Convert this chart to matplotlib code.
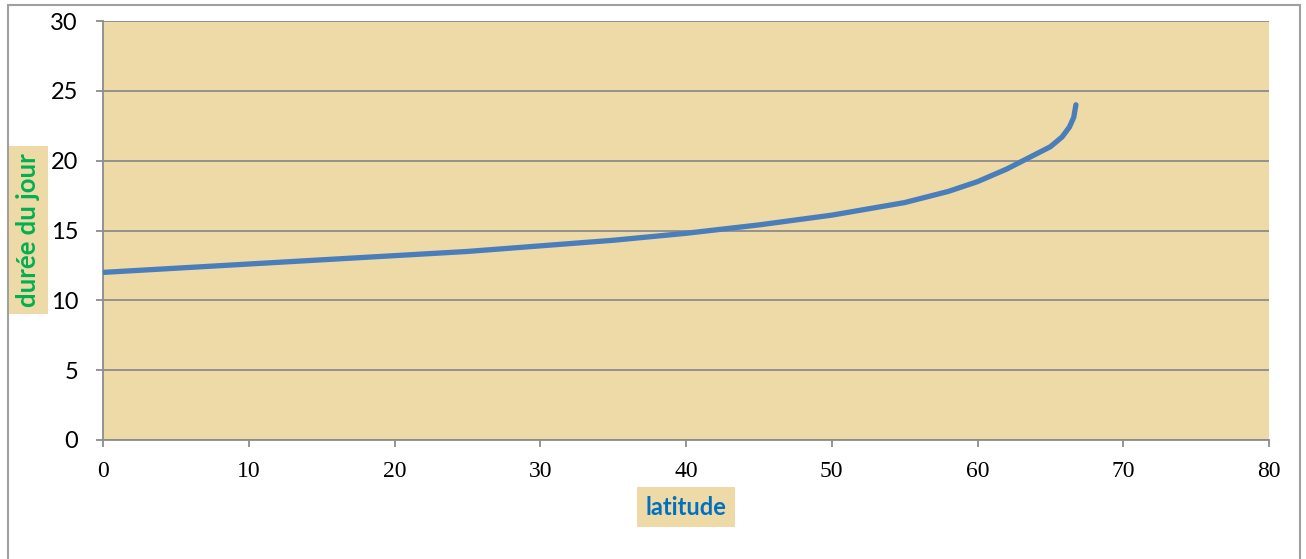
import matplotlib.pyplot as plt
from matplotlib.patches import Rectangle

# durée du jour au solstice d'été selon la latitude
latitude = [0, 5, 10, 15, 20, 25, 30, 35, 40, 45, 50, 55, 58, 60, 62, 63.5,
            65, 65.8, 66.3, 66.6, 66.75]
duree = [12.0, 12.3, 12.6, 12.9, 13.2, 13.5, 13.9, 14.3, 14.8, 15.4, 16.1, 17.0,
         17.8, 18.5, 19.4, 20.2, 21.0, 21.7, 22.4, 23.1, 24.0]

x_ticks = [0, 10, 20, 30, 40, 50, 60, 70, 80]
y_ticks = [0, 5, 10, 15, 20, 25, 30]

papyrus = '#EEDAA6'
grid_grey = '#8C8C8C'

fig = plt.figure(figsize=(13.06, 5.59), dpi=100)
ax = fig.add_axes([0.0789, 0.2129, 0.8928, 0.7495])
ax.set_facecolor(papyrus)

ax.plot(latitude, duree, color='#4A7EBB', linewidth=3.8,
        solid_capstyle='round', solid_joinstyle='round', zorder=3)

ax.set_xlim(0, 80)
ax.set_ylim(0, 30)
ax.set_xticks(x_ticks)
ax.set_yticks(y_ticks)
ax.yaxis.grid(True, color=grid_grey, linewidth=1.3)
ax.set_axisbelow(True)

for side in ('top', 'right'):
    ax.spines[side].set_visible(False)
for side in ('left', 'bottom'):
    ax.spines[side].set_color(grid_grey)
    ax.spines[side].set_linewidth(1.3)

ax.tick_params(axis='both', direction='out', length=5, width=1.3, color=grid_grey)
ax.tick_params(axis='y', pad=13)
ax.tick_params(axis='x', pad=10)
for lab in ax.get_yticklabels():
    lab.set_fontfamily('Lato')
    lab.set_fontsize(17)
for lab in ax.get_xticklabels():
    lab.set_fontfamily('Liberation Serif')
    lab.set_fontsize(17)

# libellés des axes sur fond papyrus
fig.text(0.0218, 0.589, 'durée du jour', rotation=90, ha='center', va='center',
         color='#00B050', fontsize=18.5, fontweight='bold', family='Lato',
         bbox=dict(boxstyle='square,pad=0.28', facecolor=papyrus, edgecolor='none'))
fig.text(0.5253, 0.093, 'latitude', ha='center', va='center',
         color='#0070C0', fontsize=17, fontweight='bold', family='Lato',
         bbox=dict(boxstyle='square,pad=0.38', facecolor=papyrus, edgecolor='none'))

# cadre extérieur
fig.patches.append(Rectangle((0.0061, -0.05), 0.9893, 1.041, transform=fig.transFigure,
                             fill=False, edgecolor='#A0A0A0', linewidth=1.5))

fig.savefig('out.png', dpi=100)
